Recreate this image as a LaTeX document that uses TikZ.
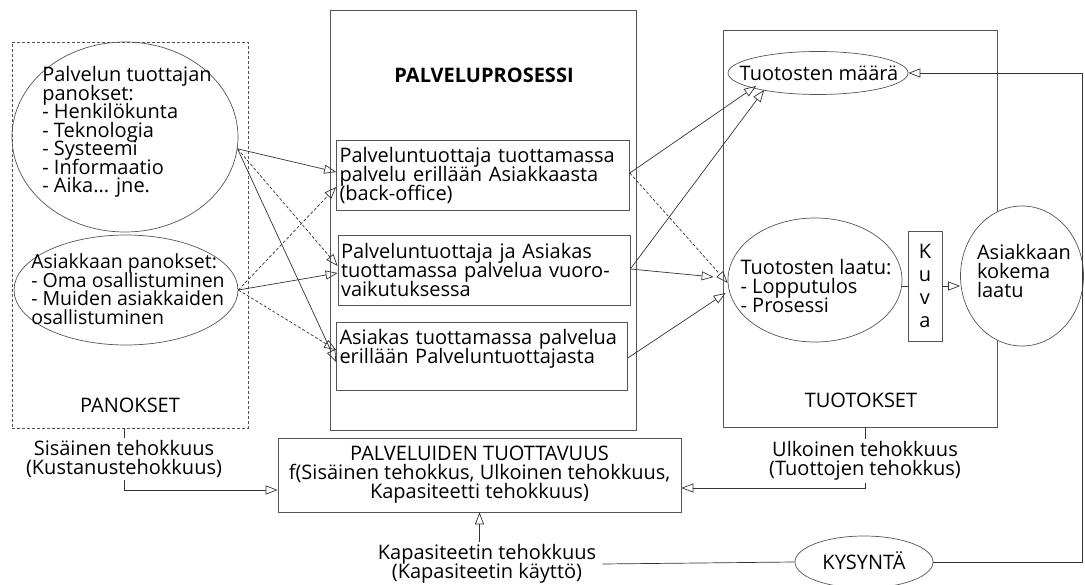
\documentclass[tikz,border=0pt]{standalone}
\usepackage{fontspec}
\setmainfont{Open Sans}
\usepackage{xcolor}
\definecolor{pvline}{HTML}{555555}
\definecolor{pvarrow}{HTML}{333333}
\usetikzlibrary{arrows.meta,positioning,shapes.geometric,calc}
\newcommand{\pvtight}{\lineskiplimit=-20pt\relax}
\newcommand{\pvfont}{\fontsize{20}{19}\selectfont\pvtight}
\tikzset{
  pvbox/.style={draw=pvline,inner sep=3pt,align=left,font=\pvfont},
  pvframe/.style={draw=pvline,inner sep=0pt},
  pvell/.style={draw=pvline,ellipse,inner sep=0pt},
  pvtext/.style={inner sep=2pt,align=center,font=\pvfont},
  pvflow/.style={draw=pvarrow,-{Triangle[open,length=12pt,width=9pt]}},
  pvdash/.style={pvflow,dash pattern=on 3pt off 2pt},
}
\begin{document}
\begin{tikzpicture}[x=1pt,y=-1pt,line width=0.7pt]
\useasboundingbox (0,0) rectangle (1085,585);
% panokset
\node[pvframe,dash pattern=on 3pt off 2pt,minimum width=236pt,minimum height=386pt] (panokset) at (130,235) {};
\node[pvtext,above=13pt of panokset.south] (panlabel) {PANOKSET};
\node[pvell,minimum width=226pt,minimum height=190pt] (tuottaja) at (125,137) {};
\node[pvtext,align=left,font=\fontsize{20}{18.5}\selectfont\pvtight] (tuottajatxt) at (127,132)
  {Palvelun tuottajan\\panokset:\\- Henkilökunta\\- Teknologia\\- Systeemi\\- Informaatio\\- Aika... jne.};
\node[pvell,minimum width=224pt,minimum height=110pt] (asiakas) at (126,290) {};
\node[pvtext,align=left,font=\fontsize{19.5}{18.5}\selectfont\pvtight] (asiakastxt) at (128,289)
  {Asiakkaan panokset:\\- Oma osallistuminen\\- Muiden asiakkaiden\\osallistuminen};
% palveluprosessi
\node[pvframe,minimum width=306pt,minimum height=420pt] (prosessi) at (483,220) {};
\node[pvtext,font=\pvfont\bfseries] (prostitle) at (484,75) {PALVELUPROSESSI};
\node[pvbox,minimum width=293pt,minimum height=70pt,text width=287pt] (b1) at (483,175)
  {Palveluntuottaja tuottamassa\\palvelu erillään Asiakkaasta\\(back-office)};
\node[pvbox,minimum width=292pt,minimum height=70pt,text width=286pt] (b2) at (484,270)
  {Palveluntuottaja ja Asiakas\\tuottamassa palvelua vuoro-\\vaikutuksessa};
\node[pvbox,minimum width=291pt,minimum height=68pt,text width=285pt] (b3) at (482,356)
  {Asiakas tuottamassa palvelua\\erillään Palveluntuottajasta\\\mbox{}};
% tuotokset
\node[pvframe,minimum width=274pt,minimum height=397pt] (tuotokset) at (860,228.5) {};
\node[pvtext] (tuolabel) at (861,400) {TUOTOKSET};
\node[pvell,minimum width=180pt,minimum height=43pt] (maara) at (818,73) {};
\node[pvtext] (maaratxt) at (819,73) {Tuotosten määrä};
\node[pvell,minimum width=174pt,minimum height=124pt] (laatu) at (815,280) {};
\node[pvtext,align=left] (laatutxt) at (816,286) {Tuotosten laatu:\\- Lopputulos\\- Prosessi};
\node[pvframe,minimum width=34pt,minimum height=110pt,align=center,font=\pvfont] (kuva) at (925,286)
  {K\\[4pt]u\\[4pt]v\\[4pt]a};
\node[pvell,fill=white,minimum width=123pt,minimum height=140pt] (kokema) at (1022,276) {};
\node[pvtext,align=left] (kokematxt) at (1024,271) {Asiakkaan\\kokema\\laatu};
% tuottavuus
\node[pvframe,minimum width=403pt,minimum height=74pt,align=center,font=\pvfont] (tuottavuus) at (479.5,475)
  {PALVELUIDEN TUOTTAVUUS\\f(Sisäinen tehokkus, Ulkoinen tehokkuus,\\Kapasiteetti tehokkuus)};
\node[pvtext] (sisainen) at (124,459) {Sisäinen tehokkuus\\(Kustanustehokkuus)};
\node[pvtext] (ulkoinen) at (865,461) {Ulkoinen tehokkuus\\(Tuottojen tehokkus)};
\node[pvtext] (kapa) at (487,564) {Kapasiteetin tehokkuus\\(Kapasiteetin käyttö)};
\node[pvell,minimum width=138pt,minimum height=52pt] (kysynta) at (864,562) {};
\node[pvtext] (kysyntatxt) at (864,561) {KYSYNTÄ};
\coordinate (rhs) at (1082,0);

% panokset -> palveluprosessi
\draw[pvflow] (tuottaja.-6) -- ([yshift=3]b1.west);
\draw[pvdash] (tuottaja.-6) -- ([yshift=4]b2.west);
\draw[pvflow] (tuottaja.-6) -- ([yshift=-6]b3.west);
\draw[pvdash] (asiakas.east) -- ([yshift=-12]b1.west);
\draw[pvflow] (asiakas.east) -- ([yshift=-3]b2.west);
\draw[pvdash] (asiakas.east) -- ([yshift=6]b3.west);
% palveluprosessi -> tuotokset
\draw[pvflow] ([yshift=2]b1.east) -- ([xshift=2,yshift=2.5]maara.south west);
\draw[pvdash] ([yshift=2]b1.east) -- ([yshift=-3]laatu.west);
\draw[pvflow] ([yshift=1]b2.east) -- ([xshift=10,yshift=-1.5]maara.south west);
\draw[pvflow] ([yshift=1]b2.east) -- ([xshift=-14,yshift=3]laatu.west);
\draw[pvflow] ([yshift=-2]b3.east) -- ([xshift=-2,yshift=-13]laatu.west);
\draw[draw=pvarrow] (laatu.east |- kuva) -- (kuva.west);
\draw[pvflow] (kuva.east) -- (kuva.east -| kokema.west);
% tehokkuus
\draw[draw=pvarrow] (panokset.south -| sisainen) -- (sisainen.north);
\draw[pvflow] (sisainen.south) |- ([yshift=-15]tuottavuus.west);
\draw[draw=pvarrow] (tuotokset.south -| ulkoinen) -- (ulkoinen.north);
\draw[pvflow] (ulkoinen.south) |- ([yshift=-13]tuottavuus.east);
\draw[pvflow] (kapa.north -| tuottavuus) -- (tuottavuus.south);
\draw[draw=pvarrow] ([xshift=4]kapa.east) -- (kysynta.west);
\draw[pvflow] (kysynta.east) -- (kysynta.east -| rhs) -- (maara.east -| rhs) -- (maara.east);
\end{tikzpicture}
\end{document}
